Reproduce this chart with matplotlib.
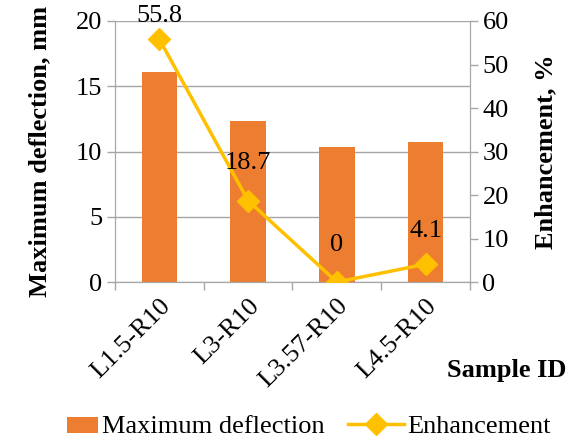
import matplotlib.pyplot as plt
import matplotlib.patches as mpatches
from matplotlib.legend_handler import HandlerPatch
import numpy as np

plt.rcParams["font.family"] = ["Liberation Serif", "DejaVu Serif"]

samples = ["L1.5-R10", "L3-R10", "L3.57-R10", "L4.5-R10"]
deflection = [16.1, 12.3, 10.35, 10.75]
enhancement = [55.8, 18.7, 0, 4.1]
enh_labels = ["55.8", "18.7", "0", "4.1"]

BAR = "#ED7D31"
LINE = "#FFC000"
GRID = "#A6A6A6"
FS = 19

fig = plt.figure(figsize=(5.73, 4.43), dpi=100)
ax = fig.add_axes([0.2007, 0.3634, 0.6195, 0.5892])
x = np.arange(len(samples))
bars = ax.bar(x, deflection, width=0.4, color=BAR, zorder=2, label="Maximum deflection")
ax.set_xlim(-0.5, len(samples) - 0.5)
ax.set_ylim(0, 20)
ax.set_yticks([0, 5, 10, 15, 20])
ax.grid(axis="y", color=GRID, linewidth=1, zorder=0)
ax.set_axisbelow(True)
ax.set_xticks(x)
ax.set_xticklabels(samples, rotation=45, ha="right", rotation_mode="anchor")
ax.set_xticks(np.arange(-0.5, len(samples)), minor=True)
ax.tick_params(axis="x", which="major", length=0, labelsize=FS, pad=9)
ax.tick_params(axis="x", which="minor", length=6, color=GRID, width=1)
ax.tick_params(axis="y", length=6, color=GRID, width=1, labelsize=FS, pad=3)
ax.spines["top"].set_visible(False)
for s in ["left", "right", "bottom"]:
    ax.spines[s].set_color(GRID)
ax.set_ylabel("Maximum deflection, mm", fontsize=FS, fontweight="bold", labelpad=18)

ax2 = ax.twinx()
line, = ax2.plot(x, enhancement, color=LINE, linewidth=2.5, marker="D", markersize=11,
                 zorder=3, label="Enhancement")
ax2.set_ylim(0, 60)
ax2.set_yticks(range(0, 61, 10))
ax2.tick_params(axis="y", length=6, color=GRID, width=1, labelsize=FS, pad=3)
ax2.spines["top"].set_visible(False)
for s in ["left", "right", "bottom"]:
    ax2.spines[s].set_color(GRID)
ax2.set_ylabel("Enhancement, %", fontsize=FS, fontweight="bold", labelpad=18)

# first label is pushed down by the top of the figure, as in the source
label_offsets = [9, 19, 19, 16]
for xi, v, t, off in zip(x, enhancement, enh_labels, label_offsets):
    ax2.annotate(t, (xi, v), xytext=(0, off), textcoords="offset points",
                 ha="center", va="bottom", fontsize=FS, annotation_clip=False)

fig.text(0.988, 0.163, "Sample ID", ha="right", va="center",
         fontsize=FS, fontweight="bold")


def short_rect(legend, orig_handle, xdescent, ydescent, width, height, fontsize):
    w = width * 0.56
    return mpatches.Rectangle((width - w - xdescent, -ydescent + height * 0.02),
                              w, height * 0.85)


bar_handle = bars.patches[0]
fig.legend([bar_handle, line], ["Maximum deflection", "Enhancement"],
           loc="lower center", bbox_to_anchor=(0.518, -0.043),
           ncol=2, frameon=False, fontsize=FS, handlelength=2.1,
           handletextpad=0.15, columnspacing=0.9,
           handler_map={bar_handle: HandlerPatch(patch_func=short_rect)})

fig.savefig("out.png", dpi=100)
